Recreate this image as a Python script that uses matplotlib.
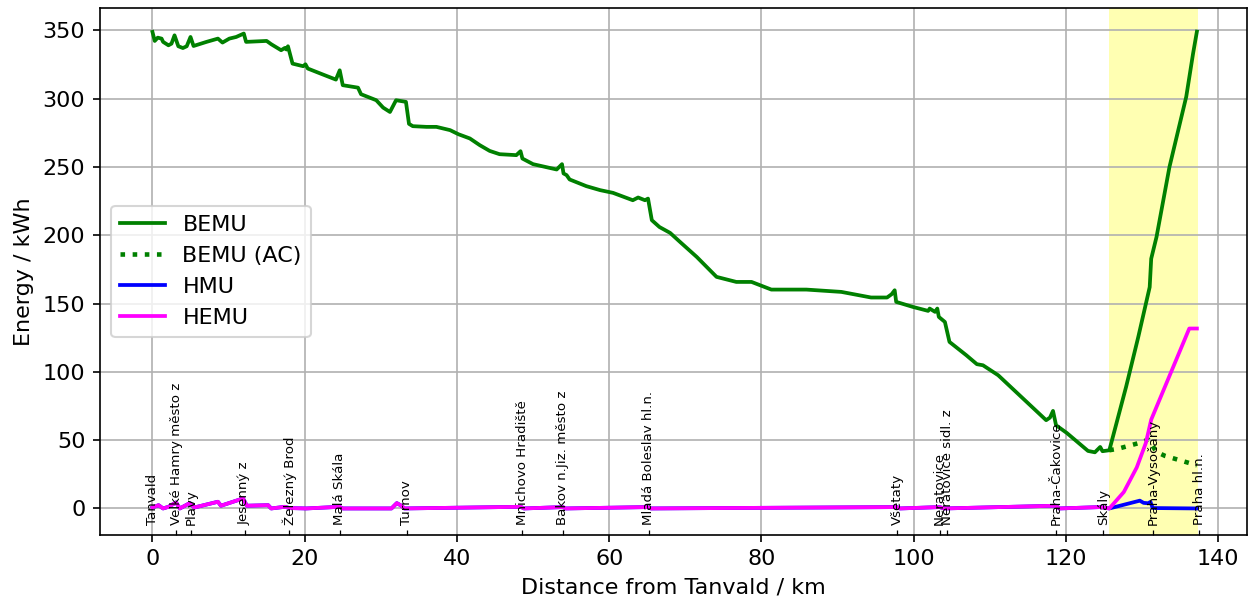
import numpy as np, matplotlib; matplotlib.use("Agg"); import matplotlib.pyplot as plt
import matplotlib.transforms as mtransforms
plt.rcParams["font.size"] = 10.7

# stations along the line (km from Tanvald)
station_km = [0.0, 3.1, 5.1, 12.1, 18.0, 24.6, 33.4, 48.6, 53.9, 65.2, 97.8, 103.4, 104.4,
              118.7, 124.9, 131.5, 137.5]
station_names = ["Tanvald", "Velké Hamry město z", "Plavy", "Jesenný z", "Železný Brod",
                 "Malá Skála", "Turnov", "Mnichovo Hradiště", "Bakov n.Jiz. město z",
                 "Mladá Boleslav hl.n.", "Všetaty", "Neratovice", "Neratovice sidl. z",
                 "Praha-Čakovice", "Skály", "Praha-Vysočany", "Praha hl.n."]

# BEMU state of energy
bemu_km = [0.0, 0.3, 0.7, 1.2, 1.4, 2.1, 2.5, 2.9, 3.4, 4.0, 4.5, 5.0, 5.4, 7.1, 8.6, 9.2, 10.1,
           11.0, 12.0, 12.3, 15.0, 15.6, 16.9, 17.4, 17.6, 17.8, 18.4, 19.8, 20.1, 20.4, 22.4,
           24.1, 24.6, 25.0, 27.0, 27.4, 29.4, 30.3, 31.2, 32.0, 33.3, 33.7, 34.2, 36.0, 37.3,
           39.1, 40.2, 41.7, 43.0, 44.3, 45.6, 47.8, 48.35, 48.6, 50.0, 53.1, 53.8, 54.0, 54.4,
           54.8, 57.0, 58.8, 60.5, 63.1, 63.8, 64.7, 65.1, 65.6, 66.6, 68.0, 69.3, 71.5, 74.1,
           76.7, 78.7, 81.3, 85.9, 90.5, 94.4, 96.5, 97.1, 97.5, 97.7, 99.9, 101.9, 102.1, 102.8,
           103.1, 103.3, 104.1, 104.7, 106.9, 108.3, 109.1, 111.1, 117.4, 117.9, 118.3, 118.7,
           120.1, 122.9, 123.8, 124.5, 124.8, 125.7, 127.9, 129.5, 131.0, 131.2, 131.9, 133.6,
           135.8, 136.7, 137.2]
bemu_kwh = [348.8, 342.2, 344.6, 343.9, 341.5, 339.0, 340.2, 346.3, 338.3, 337.0, 338.3, 345.1,
            338.5, 341.5, 343.9, 341.0, 343.9, 345.1, 347.6, 341.5, 342.2, 339.8, 335.4, 337.1,
            335.9, 338.3, 325.6, 323.7, 325.1, 322.0, 317.6, 313.9, 320.7, 309.8, 308.0, 303.2,
            298.8, 293.4, 290.2, 298.8, 297.6, 281.5, 279.8, 279.3, 279.3, 276.9, 273.9, 270.8,
            265.9, 261.7, 259.3, 258.6, 261.5, 256.1, 252.0, 248.1, 252.0, 245.2, 244.0, 240.8,
            235.9, 233.0, 231.0, 225.6, 227.6, 225.6, 226.8, 211.0, 206.0, 201.7, 195.1, 184.1,
            169.5, 165.8, 165.8, 160.2, 160.2, 158.5, 154.4, 154.4, 156.8, 159.7, 151.2, 147.5,
            144.6, 146.3, 143.9, 146.3, 140.2, 136.5, 121.9, 112.2, 105.6, 104.8, 97.5, 64.6,
            66.5, 71.4, 60.9, 55.3, 42.1, 41.1, 45.0, 41.9, 42.6, 89.0, 125.5, 162.0, 182.8,
            198.8, 250.0, 301.3, 333.0, 349.0]

# BEMU with AC charging (last section only)
bemu_ac_km = [125.7, 126.9, 130.0, 130.8, 131.9, 133.0, 137.2]
bemu_ac_kwh = [42.6, 43.8, 48.5, 50.5, 41.4, 38.5, 31.6]

# HMU / HEMU: common low part, then the electrified section
low_km = [0.0, 0.8, 1.4, 2.1, 3.1, 3.6, 4.9, 5.5, 8.6, 9.0, 11.9, 12.4, 15.2, 15.6, 17.4, 18.0,
          20.2, 24.6, 25.0, 31.4, 32.1, 32.7, 33.1, 48.4, 48.8, 53.9, 54.3, 65.0, 65.5, 97.8,
          98.2, 103.4, 104.0, 118.7, 119.1, 124.5, 125.7]
low_kwh = [0.7, 2.4, 0.0, 1.2, 4.4, 0.0, 3.9, 0.7, 4.9, 2.0, 7.3, 2.0, 2.4, 0.0, 1.2, 0.3,
           0.0, 1.2, 0.0, 0.0, 3.9, 2.0, 0.0, 1.2, 0.0, 1.0, 0.0, 1.0, 0.0, 1.0,
           0.0, 1.0, 0.0, 2.0, 0.0, 1.0, 0.0]
hmu_km = low_km + [129.7, 130.2, 130.8, 131.1, 131.4, 137.2]
hmu_kwh = low_kwh + [5.7, 4.1, 3.8, 4.8, 0.3, 0.0]
hemu_km = low_km + [127.6, 129.3, 130.5, 131.2, 136.2, 137.2]
hemu_kwh = low_kwh + [12.0, 30.0, 48.0, 65.0, 131.7, 131.7]

fig, ax = plt.subplots(figsize=(1249/150, 605/150), dpi=150)
fig.subplots_adjust(left=0.080, right=0.9985, top=0.987, bottom=0.116)
ax.axvspan(125.7, 137.3, color="yellow", alpha=0.3, lw=0)
ax.plot(bemu_km, bemu_kwh, color="green", lw=1.8, label="BEMU")
ax.plot(bemu_ac_km, bemu_ac_kwh, color="green", ls=":", lw=2.2, label="BEMU (AC)")
ax.plot(hmu_km, hmu_kwh, color="blue", lw=1.8, label="HMU")
ax.plot(hemu_km, hemu_kwh, color="magenta", lw=1.8, label="HEMU")
ax.set_xlim(-6.9, 143.8); ax.set_ylim(-19.3, 366.4)
ax.grid(True)
ax.set_xticks(station_km, minor=True)
ax.tick_params(which="minor", direction="in", length=2.5)
trans = mtransforms.blended_transform_factory(ax.transData, ax.transAxes)
for km, name in zip(station_km, station_names):
    ax.text(km, 0.018, name, rotation=90, ha="center", va="bottom", fontsize=6.4, transform=trans)
ax.set_xlabel("Distance from Tanvald / km"); ax.set_ylabel("Energy / kWh")
ax.legend(loc="center left")
plt.savefig("out.png", dpi=150)
